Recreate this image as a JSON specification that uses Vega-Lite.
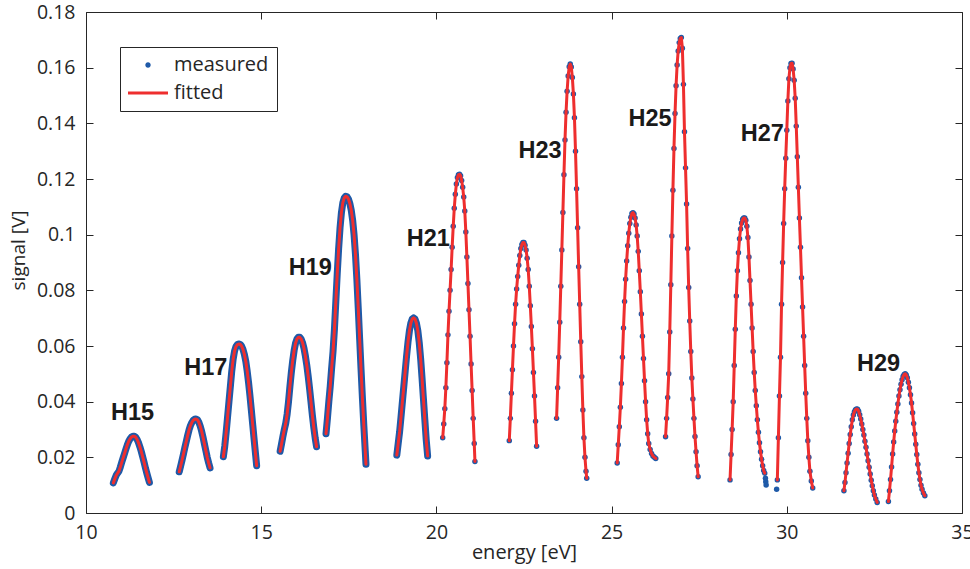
{
  "$schema": "https://vega.github.io/schema/vega-lite/v6.json",
  "width": 876,
  "height": 501,
  "autosize": {"type": "none"},
  "padding": {"left": 86, "top": 12, "right": 8, "bottom": 56},
  "background": "white",
  "config": {"view": {"stroke": null}},
  "datasets": {
    "pts": [
      {"s":1,"x":10.78,"y":0.0108},{"s":1,"x":10.82,"y":0.0122},{"s":1,"x":10.86,"y":0.0135},{"s":1,"x":10.90,"y":0.0143},{"s":1,"x":10.94,"y":0.0150},{"s":1,"x":10.98,"y":0.0165},{"s":1,"x":11.02,"y":0.0182},{"s":1,"x":11.06,"y":0.0198},{"s":1,"x":11.10,"y":0.0214},{"s":1,"x":11.14,"y":0.0230},{"s":1,"x":11.18,"y":0.0245},{"s":1,"x":11.22,"y":0.0258},{"s":1,"x":11.26,"y":0.0267},{"s":1,"x":11.30,"y":0.0273},{"s":1,"x":11.34,"y":0.0276},{"s":1,"x":11.38,"y":0.0276},{"s":1,"x":11.42,"y":0.0272},{"s":1,"x":11.46,"y":0.0264},{"s":1,"x":11.50,"y":0.0252},{"s":1,"x":11.54,"y":0.0237},{"s":1,"x":11.58,"y":0.0220},{"s":1,"x":11.62,"y":0.0201},{"s":1,"x":11.66,"y":0.0181},{"s":1,"x":11.70,"y":0.0160},{"s":1,"x":11.74,"y":0.0141},{"s":1,"x":11.78,"y":0.0123},{"s":1,"x":11.81,"y":0.0110},
      {"s":2,"x":12.66,"y":0.0148},{"s":2,"x":12.70,"y":0.0168},{"s":2,"x":12.74,"y":0.0189},{"s":2,"x":12.78,"y":0.0211},{"s":2,"x":12.82,"y":0.0234},{"s":2,"x":12.86,"y":0.0256},{"s":2,"x":12.90,"y":0.0278},{"s":2,"x":12.94,"y":0.0298},{"s":2,"x":12.98,"y":0.0314},{"s":2,"x":13.02,"y":0.0325},{"s":2,"x":13.06,"y":0.0333},{"s":2,"x":13.10,"y":0.0337},{"s":2,"x":13.14,"y":0.0338},{"s":2,"x":13.18,"y":0.0335},{"s":2,"x":13.22,"y":0.0326},{"s":2,"x":13.26,"y":0.0312},{"s":2,"x":13.30,"y":0.0294},{"s":2,"x":13.34,"y":0.0272},{"s":2,"x":13.38,"y":0.0248},{"s":2,"x":13.42,"y":0.0224},{"s":2,"x":13.46,"y":0.0200},{"s":2,"x":13.50,"y":0.0180},{"s":2,"x":13.54,"y":0.0162},
      {"s":3,"x":13.92,"y":0.0202},{"s":3,"x":13.96,"y":0.0240},{"s":3,"x":14.00,"y":0.0290},{"s":3,"x":14.04,"y":0.0345},{"s":3,"x":14.08,"y":0.0400},{"s":3,"x":14.12,"y":0.0455},{"s":3,"x":14.16,"y":0.0510},{"s":3,"x":14.20,"y":0.0553},{"s":3,"x":14.24,"y":0.0582},{"s":3,"x":14.28,"y":0.0598},{"s":3,"x":14.32,"y":0.0605},{"s":3,"x":14.36,"y":0.0607},{"s":3,"x":14.40,"y":0.0606},{"s":3,"x":14.44,"y":0.0600},{"s":3,"x":14.48,"y":0.0588},{"s":3,"x":14.52,"y":0.0570},{"s":3,"x":14.56,"y":0.0545},{"s":3,"x":14.60,"y":0.0510},{"s":3,"x":14.64,"y":0.0468},{"s":3,"x":14.68,"y":0.0420},{"s":3,"x":14.72,"y":0.0368},{"s":3,"x":14.76,"y":0.0315},{"s":3,"x":14.80,"y":0.0262},{"s":3,"x":14.84,"y":0.0210},{"s":3,"x":14.87,"y":0.0170},
      {"s":4,"x":15.54,"y":0.0222},{"s":4,"x":15.58,"y":0.0248},{"s":4,"x":15.62,"y":0.0275},{"s":4,"x":15.66,"y":0.0300},{"s":4,"x":15.70,"y":0.0322},{"s":4,"x":15.74,"y":0.0355},{"s":4,"x":15.78,"y":0.0400},{"s":4,"x":15.82,"y":0.0455},{"s":4,"x":15.86,"y":0.0505},{"s":4,"x":15.90,"y":0.0548},{"s":4,"x":15.94,"y":0.0584},{"s":4,"x":15.98,"y":0.0610},{"s":4,"x":16.02,"y":0.0625},{"s":4,"x":16.06,"y":0.0631},{"s":4,"x":16.10,"y":0.0631},{"s":4,"x":16.14,"y":0.0625},{"s":4,"x":16.18,"y":0.0612},{"s":4,"x":16.22,"y":0.0592},{"s":4,"x":16.26,"y":0.0565},{"s":4,"x":16.30,"y":0.0532},{"s":4,"x":16.34,"y":0.0492},{"s":4,"x":16.38,"y":0.0448},{"s":4,"x":16.42,"y":0.0400},{"s":4,"x":16.46,"y":0.0352},{"s":4,"x":16.50,"y":0.0308},{"s":4,"x":16.54,"y":0.0270},{"s":4,"x":16.58,"y":0.0238},
      {"s":5,"x":16.85,"y":0.0285},{"s":5,"x":16.89,"y":0.0340},{"s":5,"x":16.93,"y":0.0400},{"s":5,"x":16.97,"y":0.0455},{"s":5,"x":17.01,"y":0.0520},{"s":5,"x":17.05,"y":0.0580},{"s":5,"x":17.09,"y":0.0660},{"s":5,"x":17.13,"y":0.0760},{"s":5,"x":17.17,"y":0.0860},{"s":5,"x":17.21,"y":0.0950},{"s":5,"x":17.25,"y":0.1025},{"s":5,"x":17.29,"y":0.1080},{"s":5,"x":17.33,"y":0.1115},{"s":5,"x":17.37,"y":0.1132},{"s":5,"x":17.41,"y":0.1138},{"s":5,"x":17.45,"y":0.1136},{"s":5,"x":17.49,"y":0.1128},{"s":5,"x":17.53,"y":0.1112},{"s":5,"x":17.57,"y":0.1088},{"s":5,"x":17.61,"y":0.1052},{"s":5,"x":17.65,"y":0.1000},{"s":5,"x":17.69,"y":0.0930},{"s":5,"x":17.73,"y":0.0840},{"s":5,"x":17.77,"y":0.0735},{"s":5,"x":17.81,"y":0.0625},{"s":5,"x":17.85,"y":0.0515},{"s":5,"x":17.89,"y":0.0410},{"s":5,"x":17.93,"y":0.0312},{"s":5,"x":17.97,"y":0.0222},{"s":5,"x":17.99,"y":0.0175},
      {"s":6,"x":18.87,"y":0.0208},{"s":6,"x":18.91,"y":0.0250},{"s":6,"x":18.95,"y":0.0292},{"s":6,"x":18.99,"y":0.0345},{"s":6,"x":19.03,"y":0.0400},{"s":6,"x":19.07,"y":0.0455},{"s":6,"x":19.11,"y":0.0510},{"s":6,"x":19.15,"y":0.0565},{"s":6,"x":19.19,"y":0.0615},{"s":6,"x":19.23,"y":0.0655},{"s":6,"x":19.27,"y":0.0682},{"s":6,"x":19.31,"y":0.0697},{"s":6,"x":19.35,"y":0.0701},{"s":6,"x":19.39,"y":0.0697},{"s":6,"x":19.43,"y":0.0682},{"s":6,"x":19.47,"y":0.0655},{"s":6,"x":19.51,"y":0.0612},{"s":6,"x":19.55,"y":0.0555},{"s":6,"x":19.59,"y":0.0485},{"s":6,"x":19.63,"y":0.0410},{"s":6,"x":19.67,"y":0.0335},{"s":6,"x":19.71,"y":0.0262},{"s":6,"x":19.75,"y":0.0205},
      {"s":7,"x":20.18,"y":0.0270},{"s":7,"x":20.21,"y":0.0320},{"s":7,"x":20.24,"y":0.0375},{"s":7,"x":20.27,"y":0.0450},{"s":7,"x":20.30,"y":0.0540},{"s":7,"x":20.33,"y":0.0640},{"s":7,"x":20.36,"y":0.0725},{"s":7,"x":20.39,"y":0.0800},{"s":7,"x":20.42,"y":0.0875},{"s":7,"x":20.45,"y":0.0955},{"s":7,"x":20.48,"y":0.1030},{"s":7,"x":20.51,"y":0.1095},{"s":7,"x":20.54,"y":0.1145},{"s":7,"x":20.57,"y":0.1182},{"s":7,"x":20.60,"y":0.1205},{"s":7,"x":20.63,"y":0.1215},{"s":7,"x":20.66,"y":0.1217},{"s":7,"x":20.69,"y":0.1212},{"s":7,"x":20.72,"y":0.1195},{"s":7,"x":20.75,"y":0.1170},{"s":7,"x":20.78,"y":0.1135},{"s":7,"x":20.81,"y":0.1085},{"s":7,"x":20.84,"y":0.1010},{"s":7,"x":20.87,"y":0.0920},{"s":7,"x":20.90,"y":0.0825},{"s":7,"x":20.93,"y":0.0730},{"s":7,"x":20.96,"y":0.0635},{"s":7,"x":20.99,"y":0.0535},{"s":7,"x":21.02,"y":0.0440},{"s":7,"x":21.05,"y":0.0340},{"s":7,"x":21.08,"y":0.0250},{"s":7,"x":21.10,"y":0.0185},
      {"s":8,"x":22.08,"y":0.0260},{"s":8,"x":22.11,"y":0.0340},{"s":8,"x":22.14,"y":0.0430},{"s":8,"x":22.17,"y":0.0515},{"s":8,"x":22.20,"y":0.0600},{"s":8,"x":22.23,"y":0.0680},{"s":8,"x":22.26,"y":0.0750},{"s":8,"x":22.29,"y":0.0805},{"s":8,"x":22.32,"y":0.0850},{"s":8,"x":22.35,"y":0.0890},{"s":8,"x":22.38,"y":0.0925},{"s":8,"x":22.41,"y":0.0950},{"s":8,"x":22.44,"y":0.0965},{"s":8,"x":22.47,"y":0.0972},{"s":8,"x":22.50,"y":0.0972},{"s":8,"x":22.53,"y":0.0962},{"s":8,"x":22.56,"y":0.0945},{"s":8,"x":22.59,"y":0.0915},{"s":8,"x":22.62,"y":0.0875},{"s":8,"x":22.65,"y":0.0815},{"s":8,"x":22.68,"y":0.0745},{"s":8,"x":22.71,"y":0.0670},{"s":8,"x":22.74,"y":0.0590},{"s":8,"x":22.77,"y":0.0505},{"s":8,"x":22.80,"y":0.0420},{"s":8,"x":22.83,"y":0.0330},{"s":8,"x":22.86,"y":0.0240},
      {"s":9,"x":23.43,"y":0.0340},{"s":9,"x":23.46,"y":0.0450},{"s":9,"x":23.49,"y":0.0560},{"s":9,"x":23.52,"y":0.0685},{"s":9,"x":23.55,"y":0.0815},{"s":9,"x":23.58,"y":0.0945},{"s":9,"x":23.61,"y":0.1080},{"s":9,"x":23.64,"y":0.1215},{"s":9,"x":23.67,"y":0.1340},{"s":9,"x":23.70,"y":0.1440},{"s":9,"x":23.73,"y":0.1515},{"s":9,"x":23.76,"y":0.1570},{"s":9,"x":23.79,"y":0.1603},{"s":9,"x":23.82,"y":0.1613},{"s":9,"x":23.85,"y":0.1602},{"s":9,"x":23.88,"y":0.1565},{"s":9,"x":23.91,"y":0.1505},{"s":9,"x":23.94,"y":0.1420},{"s":9,"x":23.97,"y":0.1300},{"s":9,"x":24.00,"y":0.1165},{"s":9,"x":24.03,"y":0.1025},{"s":9,"x":24.06,"y":0.0885},{"s":9,"x":24.09,"y":0.0750},{"s":9,"x":24.12,"y":0.0615},{"s":9,"x":24.15,"y":0.0490},{"s":9,"x":24.18,"y":0.0370},{"s":9,"x":24.21,"y":0.0270},{"s":9,"x":24.24,"y":0.0200},{"s":9,"x":24.27,"y":0.0150},{"s":9,"x":24.29,"y":0.0125},
      {"s":10,"x":25.16,"y":0.0180},{"s":10,"x":25.19,"y":0.0245},{"s":10,"x":25.22,"y":0.0310},{"s":10,"x":25.25,"y":0.0380},{"s":10,"x":25.28,"y":0.0465},{"s":10,"x":25.31,"y":0.0560},{"s":10,"x":25.34,"y":0.0665},{"s":10,"x":25.37,"y":0.0760},{"s":10,"x":25.40,"y":0.0840},{"s":10,"x":25.43,"y":0.0905},{"s":10,"x":25.46,"y":0.0960},{"s":10,"x":25.49,"y":0.1005},{"s":10,"x":25.52,"y":0.1040},{"s":10,"x":25.55,"y":0.1063},{"s":10,"x":25.58,"y":0.1076},{"s":10,"x":25.61,"y":0.1079},{"s":10,"x":25.64,"y":0.1074},{"s":10,"x":25.67,"y":0.1060},{"s":10,"x":25.70,"y":0.1035},{"s":10,"x":25.73,"y":0.0995},{"s":10,"x":25.76,"y":0.0940},{"s":10,"x":25.79,"y":0.0870},{"s":10,"x":25.82,"y":0.0795},{"s":10,"x":25.85,"y":0.0715},{"s":10,"x":25.88,"y":0.0635},{"s":10,"x":25.91,"y":0.0555},{"s":10,"x":25.94,"y":0.0475},{"s":10,"x":25.97,"y":0.0400},{"s":10,"x":26.00,"y":0.0335},{"s":10,"x":26.03,"y":0.0285},{"s":10,"x":26.06,"y":0.0250},{"s":10,"x":26.10,"y":0.0228},{"s":10,"x":26.14,"y":0.0214},{"s":10,"x":26.18,"y":0.0205},{"s":10,"x":26.22,"y":0.0200},{"s":10,"x":26.26,"y":0.0196},
      {"s":11,"x":26.54,"y":0.0274},{"s":11,"x":26.57,"y":0.0340},{"s":11,"x":26.60,"y":0.0415},{"s":11,"x":26.63,"y":0.0500},{"s":11,"x":26.66,"y":0.0650},{"s":11,"x":26.69,"y":0.0820},{"s":11,"x":26.72,"y":0.0995},{"s":11,"x":26.75,"y":0.1160},{"s":11,"x":26.78,"y":0.1310},{"s":11,"x":26.81,"y":0.1435},{"s":11,"x":26.84,"y":0.1535},{"s":11,"x":26.87,"y":0.1610},{"s":11,"x":26.90,"y":0.1660},{"s":11,"x":26.93,"y":0.1690},{"s":11,"x":26.96,"y":0.1705},{"s":11,"x":26.99,"y":0.1708},{"s":11,"x":27.02,"y":0.1670},{"s":11,"x":27.05,"y":0.1540},{"s":11,"x":27.08,"y":0.1370},{"s":11,"x":27.11,"y":0.1240},{"s":11,"x":27.14,"y":0.1110},{"s":11,"x":27.17,"y":0.0950},{"s":11,"x":27.20,"y":0.0810},{"s":11,"x":27.23,"y":0.0690},{"s":11,"x":27.26,"y":0.0580},{"s":11,"x":27.29,"y":0.0485},{"s":11,"x":27.32,"y":0.0410},{"s":11,"x":27.35,"y":0.0340},{"s":11,"x":27.38,"y":0.0275},{"s":11,"x":27.41,"y":0.0220},{"s":11,"x":27.44,"y":0.0170},{"s":11,"x":27.47,"y":0.0130},
      {"s":12,"x":28.38,"y":0.0119},{"s":12,"x":28.41,"y":0.0210},{"s":12,"x":28.44,"y":0.0300},{"s":12,"x":28.47,"y":0.0400},{"s":12,"x":28.50,"y":0.0530},{"s":12,"x":28.53,"y":0.0660},{"s":12,"x":28.56,"y":0.0780},{"s":12,"x":28.59,"y":0.0870},{"s":12,"x":28.62,"y":0.0935},{"s":12,"x":28.65,"y":0.0985},{"s":12,"x":28.68,"y":0.1020},{"s":12,"x":28.71,"y":0.1042},{"s":12,"x":28.74,"y":0.1055},{"s":12,"x":28.77,"y":0.1060},{"s":12,"x":28.80,"y":0.1060},{"s":12,"x":28.83,"y":0.1052},{"s":12,"x":28.86,"y":0.1030},{"s":12,"x":28.89,"y":0.0990},{"s":12,"x":28.92,"y":0.0920},{"s":12,"x":28.95,"y":0.0835},{"s":12,"x":28.98,"y":0.0750},{"s":12,"x":29.01,"y":0.0665},{"s":12,"x":29.04,"y":0.0580},{"s":12,"x":29.07,"y":0.0505},{"s":12,"x":29.10,"y":0.0440},{"s":12,"x":29.13,"y":0.0385},{"s":12,"x":29.16,"y":0.0335},{"s":12,"x":29.19,"y":0.0290},{"s":12,"x":29.22,"y":0.0252},{"s":12,"x":29.25,"y":0.0220},{"s":12,"x":29.28,"y":0.0193},{"s":12,"x":29.31,"y":0.0170},{"s":12,"x":29.34,"y":0.0153},{"s":12,"x":29.37,"y":0.0143},{"s":12,"x":29.39,"y":0.0125,"nf":1},{"s":12,"x":29.40,"y":0.0112,"nf":1},{"s":12,"x":29.41,"y":0.0101,"nf":1},
      {"s":13,"x":29.71,"y":0.0085,"nf":1},{"s":13,"x":29.73,"y":0.0119},{"s":13,"x":29.76,"y":0.0270},{"s":13,"x":29.79,"y":0.0420},{"s":13,"x":29.82,"y":0.0560},{"s":13,"x":29.85,"y":0.0750},{"s":13,"x":29.88,"y":0.0900},{"s":13,"x":29.91,"y":0.1040},{"s":13,"x":29.94,"y":0.1165},{"s":13,"x":29.97,"y":0.1275},{"s":13,"x":30.00,"y":0.1375},{"s":13,"x":30.03,"y":0.1480},{"s":13,"x":30.06,"y":0.1560},{"s":13,"x":30.09,"y":0.1600},{"s":13,"x":30.12,"y":0.1615},{"s":13,"x":30.15,"y":0.1616},{"s":13,"x":30.18,"y":0.1595},{"s":13,"x":30.21,"y":0.1555},{"s":13,"x":30.24,"y":0.1490},{"s":13,"x":30.27,"y":0.1390},{"s":13,"x":30.30,"y":0.1280},{"s":13,"x":30.33,"y":0.1170},{"s":13,"x":30.36,"y":0.1060},{"s":13,"x":30.39,"y":0.0955},{"s":13,"x":30.42,"y":0.0845},{"s":13,"x":30.45,"y":0.0740},{"s":13,"x":30.48,"y":0.0635},{"s":13,"x":30.51,"y":0.0530},{"s":13,"x":30.54,"y":0.0430},{"s":13,"x":30.57,"y":0.0340},{"s":13,"x":30.60,"y":0.0260},{"s":13,"x":30.63,"y":0.0200},{"s":13,"x":30.66,"y":0.0150},{"s":13,"x":30.70,"y":0.0115},{"s":13,"x":30.74,"y":0.0090},
      {"s":14,"x":31.63,"y":0.0080},{"s":14,"x":31.66,"y":0.0110},{"s":14,"x":31.69,"y":0.0145},{"s":14,"x":31.72,"y":0.0180},{"s":14,"x":31.75,"y":0.0215},{"s":14,"x":31.78,"y":0.0250},{"s":14,"x":31.81,"y":0.0282},{"s":14,"x":31.84,"y":0.0310},{"s":14,"x":31.87,"y":0.0335},{"s":14,"x":31.90,"y":0.0352},{"s":14,"x":31.93,"y":0.0364},{"s":14,"x":31.96,"y":0.0371},{"s":14,"x":31.99,"y":0.0374},{"s":14,"x":32.02,"y":0.0373},{"s":14,"x":32.05,"y":0.0366},{"s":14,"x":32.08,"y":0.0353},{"s":14,"x":32.11,"y":0.0338},{"s":14,"x":32.14,"y":0.0320},{"s":14,"x":32.17,"y":0.0300},{"s":14,"x":32.20,"y":0.0280},{"s":14,"x":32.23,"y":0.0258},{"s":14,"x":32.26,"y":0.0236},{"s":14,"x":32.29,"y":0.0212},{"s":14,"x":32.32,"y":0.0188},{"s":14,"x":32.35,"y":0.0164},{"s":14,"x":32.38,"y":0.0140},{"s":14,"x":32.41,"y":0.0118},{"s":14,"x":32.44,"y":0.0098},{"s":14,"x":32.47,"y":0.0080},{"s":14,"x":32.50,"y":0.0065},{"s":14,"x":32.54,"y":0.0050},{"s":14,"x":32.58,"y":0.0038},
      {"s":15,"x":32.90,"y":0.0041},{"s":15,"x":32.93,"y":0.0080},{"s":15,"x":32.96,"y":0.0120},{"s":15,"x":32.99,"y":0.0165},{"s":15,"x":33.02,"y":0.0212},{"s":15,"x":33.05,"y":0.0255},{"s":15,"x":33.08,"y":0.0295},{"s":15,"x":33.11,"y":0.0330},{"s":15,"x":33.14,"y":0.0362},{"s":15,"x":33.17,"y":0.0392},{"s":15,"x":33.20,"y":0.0420},{"s":15,"x":33.23,"y":0.0443},{"s":15,"x":33.26,"y":0.0463},{"s":15,"x":33.29,"y":0.0479},{"s":15,"x":33.32,"y":0.0491},{"s":15,"x":33.35,"y":0.0498},{"s":15,"x":33.38,"y":0.0500},{"s":15,"x":33.41,"y":0.0496},{"s":15,"x":33.44,"y":0.0486},{"s":15,"x":33.47,"y":0.0470},{"s":15,"x":33.50,"y":0.0450},{"s":15,"x":33.53,"y":0.0425},{"s":15,"x":33.56,"y":0.0395},{"s":15,"x":33.59,"y":0.0360},{"s":15,"x":33.62,"y":0.0322},{"s":15,"x":33.65,"y":0.0284},{"s":15,"x":33.68,"y":0.0247},{"s":15,"x":33.71,"y":0.0210},{"s":15,"x":33.74,"y":0.0175},{"s":15,"x":33.77,"y":0.0145},{"s":15,"x":33.80,"y":0.0120},{"s":15,"x":33.83,"y":0.0100},{"s":15,"x":33.86,"y":0.0085},{"s":15,"x":33.90,"y":0.0072},{"s":15,"x":33.94,"y":0.0062}
    ],
    "labels": [
      {"t":"H15","x":11.33,"y":0.0358},
      {"t":"H17","x":13.42,"y":0.0522},
      {"t":"H19","x":16.40,"y":0.0882},
      {"t":"H21","x":19.77,"y":0.0985},
      {"t":"H23","x":22.96,"y":0.1301},
      {"t":"H25","x":26.10,"y":0.1415},
      {"t":"H27","x":29.30,"y":0.1361},
      {"t":"H29","x":32.62,"y":0.0535}
    ]
  },
  "data": {"name": "pts"},
  "resolve": {"axis": {"x": "independent", "y": "independent"}},
  "layer": [
    {
      "transform": [{"filter": "datum.s <= 6"}],
      "mark": {"type": "line", "strokeWidth": 7, "color": "#1f5aa8", "strokeCap": "round", "strokeJoin": "round"},
      "encoding": {
        "x": {"field": "x", "type": "quantitative", "scale": {"domain": [10, 35], "nice": false, "zero": false},
          "axis": {"orient": "bottom", "values": [10, 15, 20, 25, 30, 35], "format": "~g", "grid": false, "tickSize": -7, "labelPadding": 17,
            "labelFont": "Open Sans", "labelFontSize": 19.5, "labelColor": "#262626", "domainColor": "#262626", "tickColor": "#262626", "labelFlush": false,
            "title": "energy [eV]", "titleFont": "Open Sans", "titleFontSize": 20, "titleFontWeight": "normal", "titleColor": "#262626", "titlePadding": 1}},
        "y": {"field": "y", "type": "quantitative", "scale": {"domain": [0, 0.18], "nice": false, "zero": false},
          "axis": {"orient": "left", "values": [0, 0.02, 0.04, 0.06, 0.08, 0.1, 0.12, 0.14, 0.16, 0.18], "format": "~g", "grid": false, "tickSize": -7, "labelPadding": 18,
            "labelFont": "Open Sans", "labelFontSize": 19.5, "labelColor": "#262626", "domainColor": "#262626", "tickColor": "#262626", "labelFlush": false,
            "title": "signal [V]", "titleFont": "Open Sans", "titleFontSize": 19, "titleFontWeight": "normal", "titleColor": "#262626",
            "titleX": -68, "titleY": 238, "titleBaseline": "middle", "titleAngle": -90}},
        "detail": {"field": "s", "type": "nominal"}
      }
    },
    {
      "mark": {"type": "point", "filled": true, "size": 30, "opacity": 1},
      "encoding": {
        "x": {"field": "x", "type": "quantitative", "axis": null},
        "y": {"field": "y", "type": "quantitative", "axis": null},
        "color": {"datum": "measured", "type": "nominal",
          "scale": {"domain": ["measured", "fitted"], "range": ["#1f5aa8", "#ee2e2e"]},
          "legend": {"orient": "none", "legendX": 34, "legendY": 35, "title": null, "strokeColor": "#262626", "fillColor": "white", "padding": 8,
            "symbolSize": 1600, "symbolStrokeWidth": 0, "labelFont": "Open Sans", "labelFontSize": 20, "labelColor": "#262626", "labelOffset": 6,
            "rowPadding": 8, "clipHeight": 20, "symbolOpacity": 1,
            "symbolType": {"expr": "datum.value === 'fitted' ? 'M-1,-0.075H1V0.075H-1Z' : 'M-0.135,0A0.135,0.135,0,1,1,0.135,0A0.135,0.135,0,1,1,-0.135,0Z'"}}}
      }
    },
    {
      "transform": [{"filter": "datum.nf != 1"}],
      "mark": {"type": "line", "strokeWidth": 3, "color": "#ee2e2e", "strokeCap": "round", "strokeJoin": "round"},
      "encoding": {
        "x": {"field": "x", "type": "quantitative",
          "axis": {"orient": "top", "values": [10, 15, 20, 25, 30, 35], "labels": false, "title": null, "grid": false, "tickSize": -7, "domainColor": "#262626", "tickColor": "#262626"}},
        "y": {"field": "y", "type": "quantitative",
          "axis": {"orient": "right", "values": [0, 0.02, 0.04, 0.06, 0.08, 0.1, 0.12, 0.14, 0.16, 0.18], "labels": false, "title": null, "grid": false, "tickSize": -7, "domainColor": "#262626", "tickColor": "#262626"}},
        "detail": {"field": "s", "type": "nominal"}
      }
    },
    {
      "data": {"name": "labels"},
      "mark": {"type": "text", "font": "Liberation Sans", "fontWeight": "bold", "fontSize": 23.5, "color": "#1a1a1a", "align": "center", "baseline": "middle"},
      "encoding": {
        "x": {"field": "x", "type": "quantitative", "axis": null},
        "y": {"field": "y", "type": "quantitative", "axis": null},
        "text": {"field": "t", "type": "nominal"}
      }
    }
  ]
}
